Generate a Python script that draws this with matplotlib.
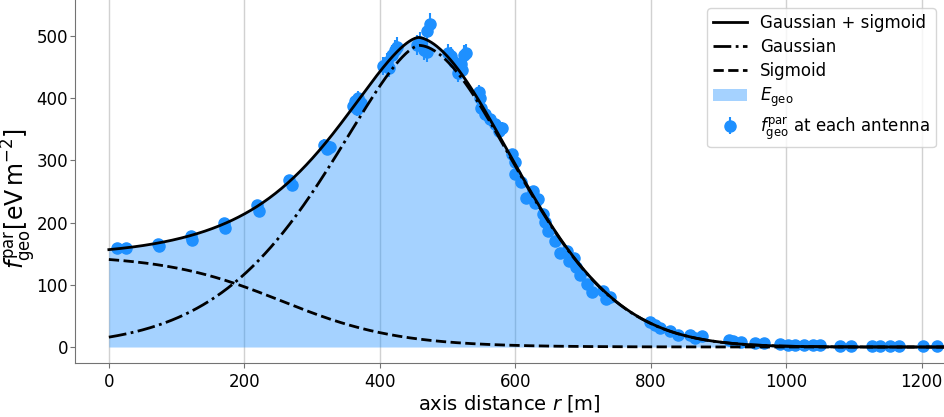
import numpy as np
from matplotlib import pyplot as plt

# antenna data: axis distance [m], f_geo^par [eV/m^2], error
r_ant = [12, 25, 72, 74, 121, 123, 170, 172, 218, 222, 266, 271,
         318, 322, 326,
         360, 364, 368, 372, 367,
         404, 410, 414, 418, 422, 425,
         455, 460, 465, 470, 470, 474,
         500, 505, 510, 516, 520, 524, 528, 522,
         546, 548, 550, 556, 563, 570, 576, 580,
         595, 600, 600, 608, 616, 626, 629, 633, 641, 644, 648, 659,
         666, 677, 680, 687, 690, 695, 706, 714, 729, 734, 740,
         799, 806, 814, 829, 841, 858, 866, 876, 915, 922, 933, 954, 967,
         991, 1003, 1013, 1027, 1039, 1050, 1079, 1095, 1127, 1139, 1153,
         1166, 1202, 1223]
f_ant = [159, 159, 166, 162, 178, 172, 199, 191, 228, 219, 268, 261,
         325, 318, 322,
         388, 395, 400, 392, 382,
         452, 458, 448, 470, 478, 483,
         485, 490, 478, 475, 508, 520,
         472, 468, 458, 440, 455, 470, 472, 446,
         410, 400, 385, 375, 366, 358, 348, 352,
         311, 298, 279, 265, 240, 251, 231, 238, 214, 201, 186, 170,
         151, 155, 138, 143, 128, 116, 102, 88, 90, 77, 80,
         41, 35, 30, 26, 19, 19, 15, 17, 11, 10, 8, 7, 6,
         5, 4, 4, 3, 3, 3, 2, 2, 1, 1, 1,
         1, 1, 1]
err_ant = [4, 4, 4, 4, 5, 5, 5, 5, 6, 6, 7, 7,
           9, 9, 9,
           11, 11, 11, 11, 11,
           14, 14, 14, 15, 15, 15,
           16, 16, 16, 16, 17, 17,
           15, 15, 15, 14, 15, 15, 15, 14,
           12, 12, 11, 11, 11, 11, 10, 10,
           8, 8, 8, 7, 6, 7, 6, 6, 5, 5, 5, 4,
           4, 4, 4, 4, 3, 3, 3, 2, 2, 2, 2,
           1, 1, 1, 1, 1, 1, 1, 1, 1, 1, 1, 1, 1,
           1, 1, 1, 1, 1, 1, 1, 1, 1, 1, 1,
           1, 1, 1]

# fit parameters
gauss_amp = 485.
gauss_r0 = 458.
gauss_sigma = 205.
gauss_p_in = 1.53
gauss_p_out = 1.83
sig_amp = 148.
sig_r50 = 255.
sig_width = 86.

fig = plt.figure(figsize=(9.44, 4.17), dpi=100)
ax = plt.axes([75/944, 54/417, 1 - 75/944, 1 - 54/417])

r = np.linspace(0, 1300, 1000)
d = np.abs(r - gauss_r0) / gauss_sigma
p = np.where(r < gauss_r0, gauss_p_in, gauss_p_out)
gauss = gauss_amp * np.exp(-d**p)
sigm = sig_amp / (1 + np.exp((r - sig_r50) / sig_width))
total = gauss + sigm

ax.errorbar(r_ant, f_ant, yerr=err_ant, fmt='o', color='dodgerblue', ms=8,
            elinewidth=1.5, zorder=2, label=r'$f^{\rm par}_{\rm geo}$ at each antenna')
ax.plot(r, total, color='k', lw=2, zorder=4, label='Gaussian + sigmoid')
ax.plot(r, gauss, color='k', lw=2, ls='-.', zorder=4, label='Gaussian')
ax.plot(r, sigm, color='k', lw=2, ls='--', zorder=4, label='Sigmoid')
ax.fill_between(r, 0, total, color='dodgerblue', alpha=0.4, lw=0, zorder=1,
                label=r'$E_{\rm geo}$')

ax.set_xlim(-50, 1233)
ax.set_ylim(-25.7, 558)
ax.set_xticks(range(0, 1201, 200))
ax.set_yticks(range(0, 501, 100))
ax.tick_params(labelsize=12, color='0.45')
ax.tick_params(axis='y', pad=1.5)
ax.grid(axis='x', color='0.82', lw=1)
ax.set_axisbelow(True)
for s in ['top', 'right']:
    ax.spines[s].set_visible(False)
for s in ['left', 'bottom']:
    ax.spines[s].set_color('0.45')

ax.set_xlabel(r'axis distance $r$ [m]', fontsize=14, labelpad=2)
ax.set_ylabel(r'$f^{\rm par}_{\rm geo} [\mathrm{eV\,m^{-2}}]$', fontsize=17)
ax.yaxis.set_label_coords(-0.043, 0.452)

ax.legend(loc='upper right', fontsize=12, labelspacing=0.35, borderpad=0.35)

plt.savefig('out.png', dpi=100)
